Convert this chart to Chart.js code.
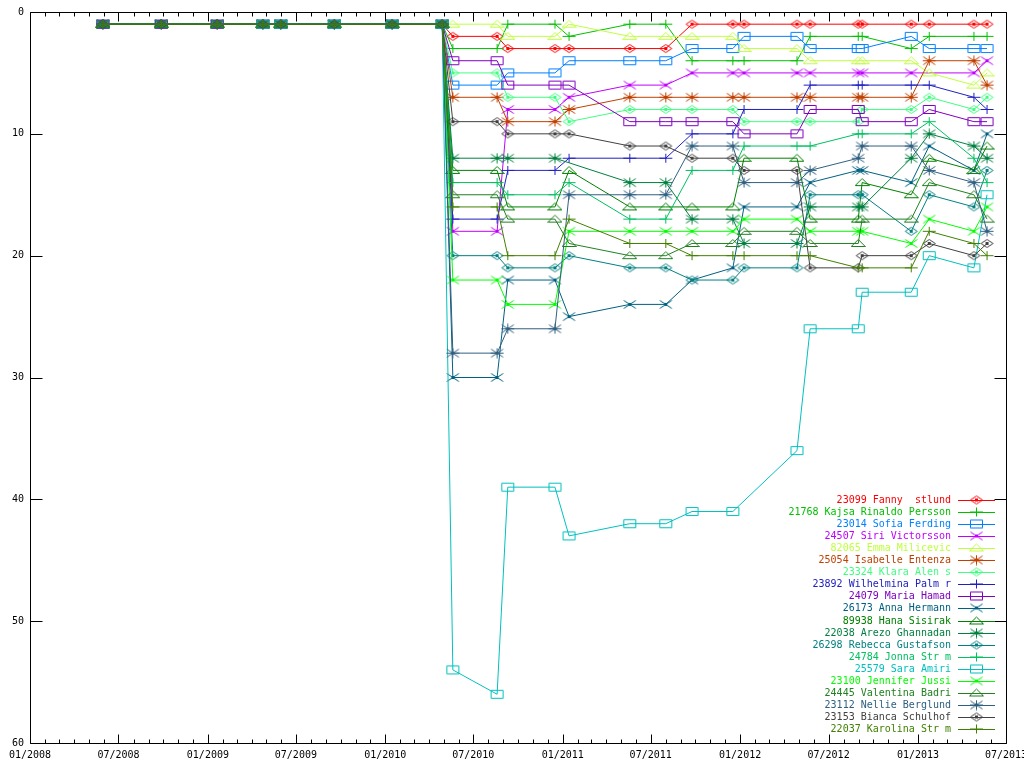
<!DOCTYPE html>
<html>
<head>
<meta charset="utf-8">
<script src="https://cdn.jsdelivr.net/npm/chart.js@4/dist/chart.umd.min.js"></script>
<style>
  html, body { margin: 0; padding: 0; background: #fff; }
  canvas { display: block; }
</style>
</head>
<body>
<canvas id="myChart" width="1024" height="768"></canvas>
<script>
'use strict';

// sample dates (x) and rank of each girl at that date (y, 1 = best)
var dates = ['2008-05-30', '2008-09-27', '2009-01-20', '2009-04-24', '2009-05-31', '2009-09-18', '2010-01-15', '2010-04-28',
    '2010-05-20', '2010-08-19', '2010-09-10', '2010-12-16', '2011-01-14', '2011-05-19', '2011-08-01', '2011-09-24',
    '2011-12-17', '2012-01-09', '2012-04-27', '2012-05-24', '2012-08-31', '2012-09-08', '2012-12-18', '2013-01-24',
    '2013-04-26', '2013-05-23'];

var tickLabels = ['01/2008', '07/2008', '01/2009', '07/2009', '01/2010', '07/2010', '01/2011', '07/2011', '01/2012', '07/2012', '01/2013', '07/2013'];
var yTicks = [0, 10, 20, 30, 40, 50, 60];

var names = ['23099 Fanny  stlund', '21768 Kajsa Rinaldo Persson', '23014 Sofia Ferding', '24507 Siri Victorsson',
    '82065 Emma Milicevic', '25054 Isabelle Entenza', '23324 Klara Alen s', '23892 Wilhelmina Palm r',
    '24079 Maria Hamad', '26173 Anna Hermann', '89938 Hana Sisirak', '22038 Arezo Ghannadan',
    '26298 Rebecca Gustafson', '24784 Jonna Str m', '25579 Sara Amiri', '23100 Jennifer Jussi',
    '24445 Valentina Badri', '23112 Nellie Berglund', '23153 Bianca Schulhof', '22037 Karolina Str m'];

var fanny = [1, 1, 1, 1, 1, 1, 1, 1, 2, 2, 3, 3, 3, 3, 3, 1, 1, 1, 1, 1, 1, 1, 1, 1, 1, 1];
var kajsa = [1, 1, 1, 1, 1, 1, 1, 1, 3, 3, 1, 1, 2, 1, 1, 4, 4, 4, 4, 2, 2, 2, 3, 2, 2, 2];
var sofia = [1, 1, 1, 1, 1, 1, 1, 1, 6, 6, 5, 5, 4, 4, 4, 3, 3, 2, 2, 3, 3, 3, 2, 3, 3, 3];
var siri = [1, 1, 1, 1, 1, 1, 1, 1, 18, 18, 8, 8, 7, 6, 6, 5, 5, 5, 5, 5, 5, 5, 5, null, 5, 4];
var emma = [1, 1, 1, 1, 1, 1, 1, 1, 1, 1, 2, 2, 1, 2, 2, 2, 2, 3, 3, 4, 4, 4, 4, 5, 6, 5];
var isabelle = [1, 1, 1, 1, 1, 1, 1, 1, 7, 7, 9, 9, 8, 7, 7, 7, 7, 7, 7, 7, 7, 7, 7, 4, 4, 6];
var klara = [1, 1, 1, 1, 1, 1, 1, 1, 5, 5, 7, 7, 9, 8, 8, 8, 8, 9, 9, 9, 9, 8, 8, 7, 8, 7];
var wilhelmina = [1, 1, 1, 1, 1, 1, 1, 1, 17, 17, 13, 13, 12, 12, 12, 10, 10, 8, 8, 6, 6, 6, 6, 6, 7, 8];
var maria = [1, 1, 1, 1, 1, 1, 1, 1, 4, 4, 6, 6, 6, 9, 9, 9, 9, 10, 10, 8, 8, 9, 9, 8, 9, 9];
var anna = [1, 1, 1, 1, 1, 1, 1, 1, 30, 30, 22, 22, 25, 24, 24, 22, 21, 16, 16, 14, 13, 13, 14, 11, 13, 10];
var hana = [1, 1, 1, 1, 1, 1, 1, 1, 13, 13, 16, 16, 13, 16, 16, 16, 16, 12, 12, 17, 17, 14, 15, 12, 13, 11];
var arezo = [1, 1, 1, 1, 1, 1, 1, 1, 12, 12, 12, 12, null, 14, 14, 17, 17, 19, 19, 16, 16, 16, 12, 10, 11, 12];
var rebecca = [1, 1, 1, 1, 1, 1, 1, 1, 20, 20, 21, 21, 20, 21, 21, 22, 22, 21, 21, 15, 15, 15, 18, 15, 16, 13];
var jonna = [1, 1, 1, 1, 1, 1, 1, 1, 14, 14, 15, 15, 14, 17, 17, 13, 13, 11, 11, 11, 10, 10, 10, 9, 12, 14];
var sara = [null, null, null, 1, 1, 1, 1, 1, 54, 56, 39, 39, 43, 42, 42, 41, 41, null, 36, 26, 26, 23, 23, 20, 21, 15];
var jennifer = [1, 1, 1, 1, 1, 1, 1, 1, 22, 22, 24, 24, 18, 18, 18, 18, 18, 17, 17, 18, 18, 18, 19, 17, 18, 16];
var valentina = [1, 1, 1, 1, 1, 1, 1, 1, 15, 15, 17, 17, 19, 20, 20, 19, 19, 18, 18, 19, 19, 17, 17, 14, 15, 17];
var nellie = [1, 1, 1, 1, 1, 1, 1, 1, 28, 28, 26, 26, 15, 15, 15, 11, 11, 14, 14, 13, 12, 11, 11, 13, 14, 18];
var bianca = [1, 1, 1, 1, 1, 1, 1, 1, 9, 9, 10, 10, 10, 11, 11, 12, 12, 13, 13, 21, 21, 20, 20, 19, 20, 19];
var karolina = [1, 1, 1, 1, 1, 1, 1, 1, 16, 16, 20, 20, 17, 19, 19, 20, 20, 20, 20, 20, 21, 21, 21, 18, 19, 20];

var series = [fanny, kajsa, sofia, siri, emma, isabelle, klara, wilhelmina, maria, anna,
    hana, arezo, rebecca, jonna, sara, jennifer, valentina, nellie, bianca, karolina];

var colors = ['#ff0000', '#00c000', '#0080ff', '#c000ff', '#c0ff40', '#c04000', '#40ff80', '#2020c0', '#8000c0', '#006080',
    '#008000', '#008040', '#008080', '#00c060', '#00c0c0', '#00ff00', '#208020', '#306080', '#404040', '#408000'];
var shapes = ['diamond', 'plus', 'square', 'cross', 'triangle', 'star'];

var FONT = '10px "DejaVu Sans Mono", monospace';

function dayOf(str) {
    var p = str.split('-');
    return (Date.UTC(+p[0], +p[1] - 1, +p[2]) - Date.UTC(2008, 0, 1)) / 86400000;
}

function labelDay(label) {
    var p = label.split('/');
    return dayOf(p[1] + '-' + p[0] + '-01');
}

// small gnuplot-like point symbols
function makeMarker(shape, color) {
    var c = document.createElement('canvas');
    c.width = 15;
    c.height = 11;
    var g = c.getContext('2d');
    g.strokeStyle = color;
    g.fillStyle = color;
    g.lineWidth = 1;
    g.beginPath();
    if (shape === 'diamond') {
        g.moveTo(1.5, 5.5); g.lineTo(7.5, 1.5); g.lineTo(13.5, 5.5); g.lineTo(7.5, 9.5); g.closePath();
        g.fillRect(6, 4, 3, 3);
    } else if (shape === 'plus') {
        g.moveTo(1, 5.5); g.lineTo(14, 5.5);
        g.moveTo(7.5, 1); g.lineTo(7.5, 10);
    } else if (shape === 'square') {
        g.rect(1.5, 1.5, 12, 8);
    } else if (shape === 'cross') {
        g.moveTo(1.5, 1.5); g.lineTo(13.5, 9.5);
        g.moveTo(1.5, 9.5); g.lineTo(13.5, 1.5);
        g.fillRect(6, 4, 3, 3);
    } else if (shape === 'triangle') {
        g.moveTo(0.5, 8.5); g.lineTo(7.5, 1.5); g.lineTo(14.5, 8.5); g.closePath();
    } else {
        g.moveTo(1.5, 1.5); g.lineTo(13.5, 9.5);
        g.moveTo(1.5, 9.5); g.lineTo(13.5, 1.5);
        g.moveTo(7.5, 0.5); g.lineTo(7.5, 10.5);
        g.moveTo(1, 5.5); g.lineTo(14, 5.5);
        g.fillRect(6, 4, 3, 3);
    }
    g.stroke();
    return c;
}

function buildDatasets() {
    var sets = [];
    for (var i = 0; i < series.length; i++) {
        var pts = [];
        for (var j = 0; j < dates.length; j++) {
            pts.push({ x: dayOf(dates[j]), y: series[i][j] });
        }
        sets.push({
            label: names[i],
            data: pts,
            borderColor: colors[i],
            backgroundColor: colors[i],
            borderWidth: 1,
            pointStyle: makeMarker(shapes[i % 6], colors[i]),
            pointRadius: 5,
            spanGaps: true,
            tension: 0,
            order: series.length - i
        });
    }
    return sets;
}

// frame with inward ticks on all four sides
var framePlugin = {
    id: 'frame',
    afterDraw: function(chart) {
        var ctx = chart.ctx;
        var a = chart.chartArea;
        var xs = chart.scales.x;
        var ys = chart.scales.y;
        var L = Math.round(a.left) + 0.5, R = Math.round(a.right) + 0.5;
        var T = Math.round(a.top) + 0.5, B = Math.round(a.bottom) + 0.5;
        ctx.save();
        ctx.strokeStyle = '#000';
        ctx.lineWidth = 1;
        ctx.beginPath();
        ctx.moveTo(L, T); ctx.lineTo(R, T); ctx.lineTo(R, B); ctx.lineTo(L, B); ctx.closePath();
        for (var y = 2008; y <= 2013; y++) {
            for (var m = 1; m <= 12; m++) {
                var d = dayOf(y + '-' + m + '-01');
                if (d > xs.max) break;
                var px = Math.round(xs.getPixelForValue(d)) + 0.5;
                var len = (m === 1 || m === 7) ? 9 : 4;
                ctx.moveTo(px, B); ctx.lineTo(px, B - len);
                ctx.moveTo(px, T); ctx.lineTo(px, T + len);
            }
        }
        for (var k = 0; k < yTicks.length; k++) {
            var py = Math.round(ys.getPixelForValue(yTicks[k])) + 0.5;
            ctx.moveTo(L, py); ctx.lineTo(L + 12, py);
            ctx.moveTo(R, py); ctx.lineTo(R - 12, py);
        }
        ctx.stroke();
        ctx.restore();
    }
};

// gnuplot style key: right aligned text, then a line sample with its symbol
var keyPlugin = {
    id: 'key',
    afterDraw: function(chart) {
        var ctx = chart.ctx;
        ctx.save();
        ctx.font = FONT;
        ctx.textAlign = 'right';
        ctx.textBaseline = 'middle';
        chart.data.datasets.forEach(function(ds, i) {
            var y = Math.round(500 + i * 12.05) + 0.5;
            ctx.fillStyle = ds.borderColor;
            ctx.fillText(ds.label, 951, y);
            ctx.strokeStyle = ds.borderColor;
            ctx.lineWidth = 1;
            ctx.beginPath();
            ctx.moveTo(958, y);
            ctx.lineTo(995, y);
            ctx.stroke();
            ctx.drawImage(ds.pointStyle, 976 - 7, y - 6);
        });
        ctx.restore();
    }
};

Chart.defaults.color = '#000';
Chart.defaults.font.family = '"DejaVu Sans Mono", monospace';
Chart.defaults.font.size = 10;

var ctx = document.getElementById('myChart').getContext('2d');
var chart = new Chart(ctx, {
    type: 'line',
    data: { datasets: buildDatasets() },
    options: {
        responsive: false,
        animation: false,
        devicePixelRatio: 1,
        layout: { autoPadding: false, padding: { top: 12, right: 18, left: 0, bottom: 0 } },
        plugins: { legend: { display: false }, tooltip: { enabled: false } },
        scales: {
            x: {
                type: 'linear',
                min: 0,
                max: labelDay('07/2013'),
                grid: { display: false, drawTicks: false },
                border: { display: false },
                afterFit: function(scale) {
                    scale.height = 25;
                    scale.paddingLeft = 0;
                    scale.paddingRight = 0;
                },
                afterBuildTicks: function(scale) {
                    scale.ticks = tickLabels.map(function(l) { return { value: labelDay(l) }; });
                },
                ticks: {
                    autoSkip: false,
                    maxRotation: 0,
                    padding: 6,
                    callback: function(value, index) { return tickLabels[index]; }
                }
            },
            y: {
                type: 'linear',
                reverse: true,
                min: 0,
                max: 60,
                grid: { display: false, drawTicks: false },
                border: { display: false },
                afterFit: function(scale) {
                    scale.width = 30;
                    scale.paddingTop = 0;
                    scale.paddingBottom = 0;
                },
                afterBuildTicks: function(scale) {
                    scale.ticks = yTicks.map(function(v) { return { value: v }; });
                },
                ticks: { padding: 6 }
            }
        }
    },
    plugins: [framePlugin, keyPlugin]
});
</script>
</body>
</html>
